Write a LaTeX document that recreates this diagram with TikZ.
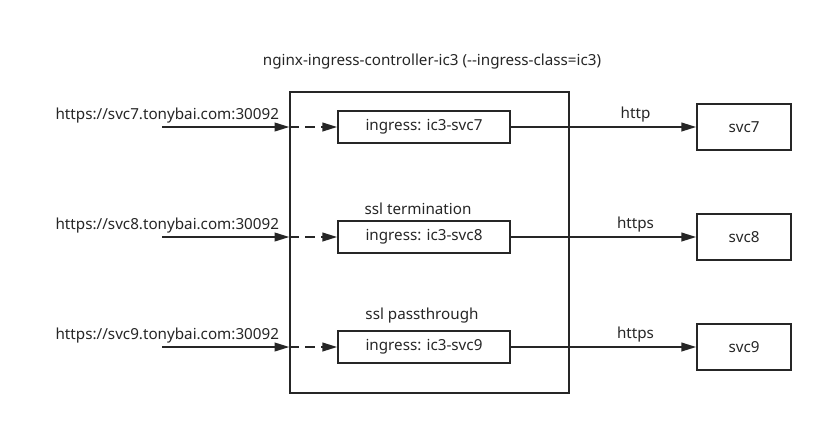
\documentclass[tikz,border=0pt]{standalone}
\usepackage{fontspec}
\setmainfont{Noto Sans}
\usetikzlibrary{arrows.meta}
\begin{document}
\begin{tikzpicture}[x=0.75pt, y=-0.75pt,
            every node/.style={font=\fontsize{11.4}{13}\selectfont, text=black!85},
            line/.style={draw=black!85, line width=1.3pt},
            tip/.style={-{Triangle[length=11pt, width=6.5pt]}},
            ingbox/.style={line, rectangle, minimum width=129pt, minimum height=23.5pt, inner sep=0pt},
            svcbox/.style={line, rectangle, minimum width=70.5pt, minimum height=34.5pt, inner sep=0pt},
            lbl/.style={inner sep=1pt}
        ]
            \useasboundingbox (0,0) rectangle (823,426);
            \node (title) [lbl] at (432, 62) {nginx-ingress-controller-ic3 (-{}-ingress-class=ic3)};
            \node (ctrl) [line, rectangle, minimum width=209pt, minimum height=225.75pt, inner sep=0pt] at (429.5, 242.5) {};

            \node (ing7) [ingbox] at (424, 127) {ingress: ic3-svc7};
            \node (ing8) [ingbox] at (424, 237) {ingress: ic3-svc8};
            \node (ing9) [ingbox] at (424, 347) {ingress: ic3-svc9};

            \node (svc7) [svcbox] at (744, 127) {svc7};
            \node (svc8) [svcbox] at (744, 237) {svc8};
            \node (svc9) [svcbox] at (744, 347) {svc9};

            \node (url7) [lbl, anchor=west] at (54, 116) {https://svc7.tonybai.com:30092};
            \node (url8) [lbl, anchor=west] at (54, 226) {https://svc8.tonybai.com:30092};
            \node (url9) [lbl, anchor=west] at (54, 336) {https://svc9.tonybai.com:30092};

            \node (term) [lbl] at (418, 209) {ssl termination};
            \node (pass) [lbl] at (422, 316) {ssl passthrough};

            \coordinate (in7) at (162, 127);
            \coordinate (in8) at (162, 237);
            \coordinate (in9) at (162, 347);

            \draw [line, tip] (in7) -- (ctrl.west |- in7);
            \draw [line, tip] (in8) -- (ctrl.west |- in8);
            \draw [line, tip] (in9) -- (ctrl.west |- in9);
            \draw [line, tip, dash pattern=on 7pt off 5pt] (ctrl.west |- ing7) -- (ing7);
            \draw [line, tip, dash pattern=on 7pt off 5pt] (ctrl.west |- ing8) -- (ing8);
            \draw [line, tip, dash pattern=on 7pt off 5pt] (ctrl.west |- ing9) -- (ing9);

            \draw [line, tip] (ing7) -- node [lbl, above=2pt, xshift=24pt] {http} (svc7);
            \draw [line, tip] (ing8) -- node [lbl, above=2pt, xshift=24pt] {https} (svc8);
            \draw [line, tip] (ing9) -- node [lbl, above=2pt, xshift=24pt] {https} (svc9);
        \end{tikzpicture}
\end{document}
